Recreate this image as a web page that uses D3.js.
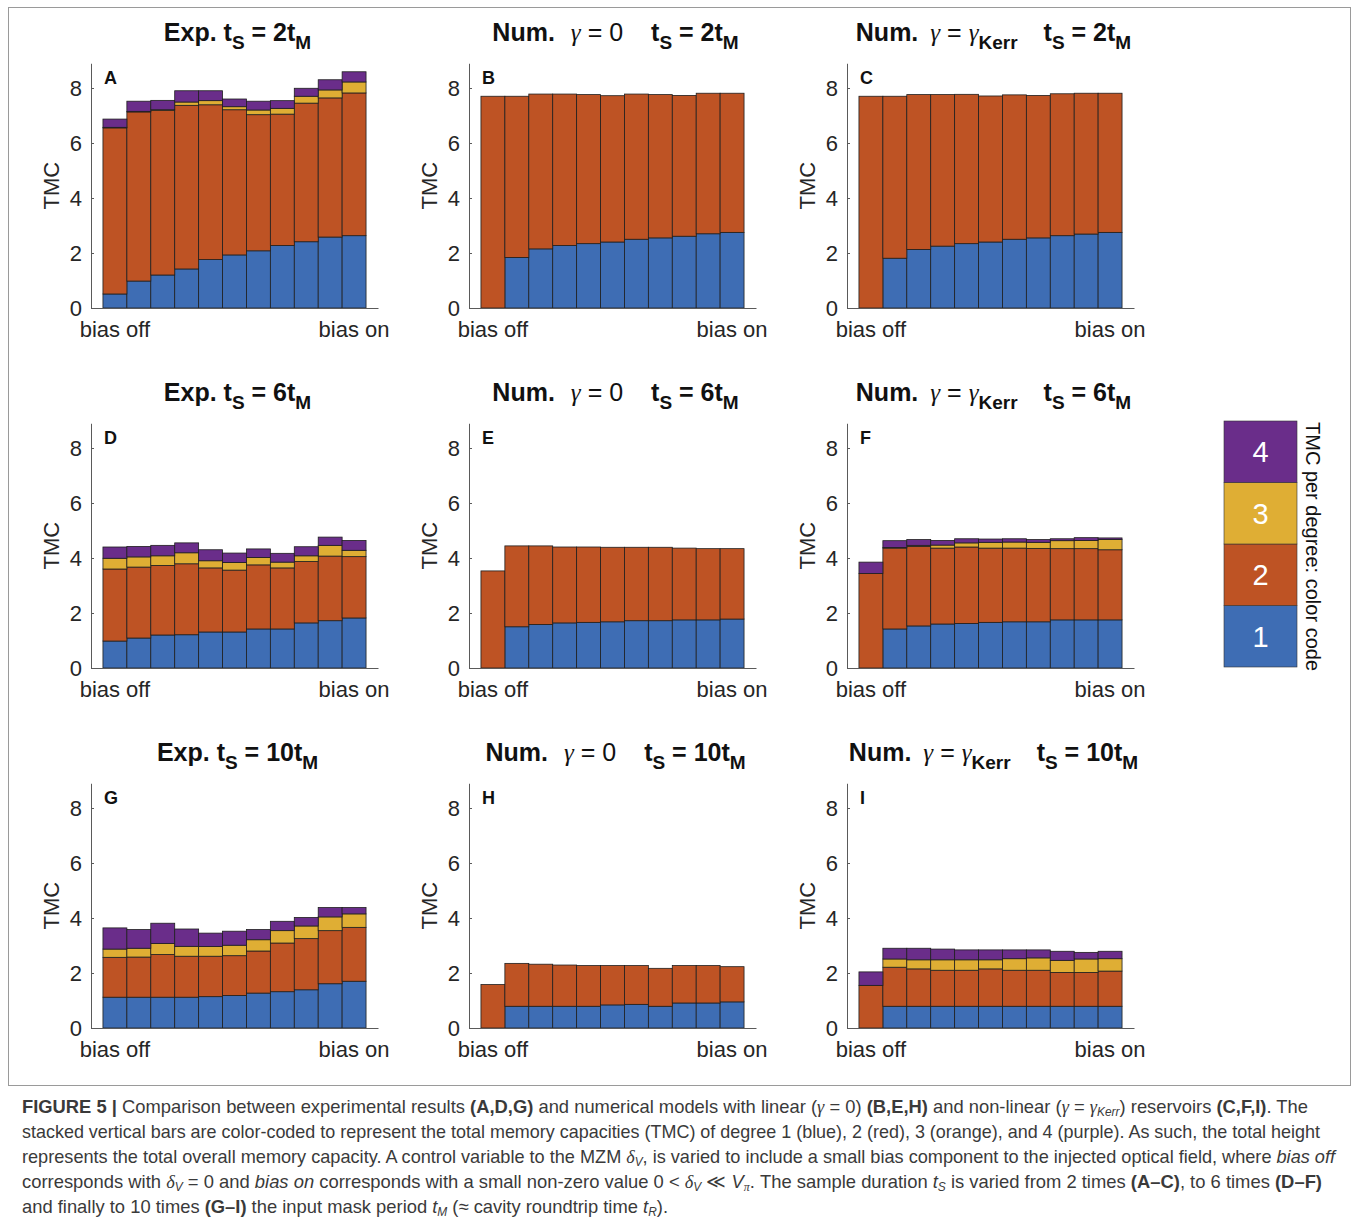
<!DOCTYPE html>
<html>
<head>
<meta charset="utf-8">
<script src="https://cdn.jsdelivr.net/npm/d3@7"></script>
<style>
  body { margin: 0; background: #fff; }
  svg { display: block; font-family: "Liberation Sans", Arial, sans-serif; }
</style>
</head>
<body>
<svg id="fig" width="1360" height="1226"></svg>
<script>
// TMC per degree (1..4) for the 11 bias steps
var barIndex = [1, 2, 3, 4, 5, 6, 7, 8, 9, 10, 11];
var degreeKeys = ["d1", "d2", "d3", "d4"];
var degreeLabels = ["1", "2", "3", "4"];
var degreeColors = ["#3e6db4", "#be5324", "#dfae34", "#6a2d8a"];
var xTickValues = [1, 11];
var xTickLabels = ["bias off", "bias on"];
var yTickValues = [0, 2, 4, 6, 8];

var panelA = [
  [0.51, 0.98, 1.20, 1.42, 1.76, 1.93, 2.08, 2.27, 2.41, 2.58, 2.63],
  [6.04, 6.15, 5.99, 5.95, 5.63, 5.28, 4.95, 4.78, 5.04, 5.06, 5.19],
  [0.02, 0.02, 0.02, 0.12, 0.15, 0.11, 0.17, 0.21, 0.25, 0.29, 0.40],
  [0.30, 0.37, 0.34, 0.41, 0.36, 0.28, 0.32, 0.28, 0.29, 0.37, 0.37]
];
var panelB = [
  [0, 1.84, 2.15, 2.27, 2.34, 2.40, 2.50, 2.55, 2.61, 2.70, 2.75],
  [7.70, 5.86, 5.63, 5.51, 5.42, 5.32, 5.28, 5.21, 5.12, 5.11, 5.06],
  [0, 0, 0, 0, 0, 0, 0, 0, 0, 0, 0],
  [0, 0, 0, 0, 0, 0, 0, 0, 0, 0, 0]
];
var panelC = [
  [0, 1.81, 2.13, 2.25, 2.34, 2.40, 2.50, 2.55, 2.63, 2.69, 2.75],
  [7.70, 5.89, 5.63, 5.51, 5.43, 5.31, 5.25, 5.18, 5.16, 5.12, 5.06],
  [0, 0, 0, 0, 0, 0, 0, 0, 0, 0, 0],
  [0, 0, 0, 0, 0, 0, 0, 0, 0, 0, 0]
];
var panelD = [
  [0.98, 1.09, 1.20, 1.21, 1.31, 1.31, 1.42, 1.42, 1.64, 1.72, 1.82],
  [2.62, 2.58, 2.53, 2.58, 2.33, 2.25, 2.33, 2.22, 2.23, 2.35, 2.23],
  [0.39, 0.37, 0.35, 0.40, 0.26, 0.28, 0.27, 0.21, 0.21, 0.39, 0.23],
  [0.41, 0.38, 0.38, 0.36, 0.40, 0.34, 0.31, 0.32, 0.33, 0.30, 0.36]
];
var panelE = [
  [0, 1.50, 1.58, 1.64, 1.66, 1.68, 1.72, 1.72, 1.75, 1.75, 1.78],
  [3.53, 2.94, 2.86, 2.76, 2.74, 2.71, 2.67, 2.67, 2.61, 2.59, 2.56],
  [0, 0, 0, 0, 0, 0, 0, 0, 0, 0, 0],
  [0, 0, 0, 0, 0, 0, 0, 0, 0, 0, 0]
];
var panelF = [
  [0, 1.42, 1.53, 1.60, 1.62, 1.66, 1.68, 1.68, 1.75, 1.75, 1.75],
  [3.44, 2.94, 2.89, 2.76, 2.78, 2.70, 2.68, 2.67, 2.59, 2.59, 2.55],
  [0, 0.02, 0.04, 0.11, 0.15, 0.21, 0.22, 0.22, 0.29, 0.30, 0.37],
  [0.41, 0.25, 0.21, 0.17, 0.15, 0.12, 0.12, 0.10, 0.07, 0.10, 0.06]
];
var panelG = [
  [1.12, 1.12, 1.12, 1.12, 1.14, 1.18, 1.27, 1.32, 1.39, 1.61, 1.70],
  [1.45, 1.46, 1.55, 1.49, 1.47, 1.45, 1.53, 1.77, 1.86, 1.93, 1.96],
  [0.30, 0.32, 0.40, 0.36, 0.35, 0.38, 0.41, 0.45, 0.46, 0.50, 0.49],
  [0.77, 0.68, 0.74, 0.63, 0.49, 0.51, 0.37, 0.34, 0.31, 0.34, 0.23]
];
var panelH = [
  [0, 0.79, 0.79, 0.79, 0.79, 0.84, 0.86, 0.79, 0.91, 0.91, 0.95],
  [1.58, 1.56, 1.53, 1.50, 1.48, 1.43, 1.41, 1.38, 1.36, 1.36, 1.28],
  [0, 0, 0, 0, 0, 0, 0, 0, 0, 0, 0],
  [0, 0, 0, 0, 0, 0, 0, 0, 0, 0, 0]
];
var panelI = [
  [0, 0.79, 0.79, 0.79, 0.79, 0.79, 0.79, 0.79, 0.79, 0.79, 0.79],
  [1.55, 1.42, 1.36, 1.31, 1.31, 1.36, 1.31, 1.31, 1.23, 1.23, 1.28],
  [0, 0.30, 0.33, 0.38, 0.38, 0.33, 0.42, 0.45, 0.44, 0.49, 0.45],
  [0.49, 0.39, 0.42, 0.39, 0.36, 0.36, 0.32, 0.29, 0.33, 0.24, 0.27]
];

var panelLetters = ["A", "B", "C", "D", "E", "F", "G", "H", "I"];
var panelValues = [panelA, panelB, panelC, panelD, panelE, panelF, panelG, panelH, panelI];
var sampleTimes = ["2", "6", "10"];

// title pieces: [text, style, dx]
function titleSegs(col, n) {
  if (col == 0) return [["Exp. t", "b"], ["S", "b sub"], [" = " + n + "t", "b"], ["M", "b sub"]];
  if (col == 1) return [["Num.", "b"], ["γ", "m", 16], [" = 0", "r"], ["t", "b", 28], ["S", "b sub"], [" = " + n + "t", "b"], ["M", "b sub"]];
  return [["Num.", "b"], ["γ", "m", 12], [" = ", "r"], ["γ", "m"], ["Kerr", "b sub"], ["t", "b", 26], ["S", "b sub"], [" = " + n + "t", "b"], ["M", "b sub"]];
}

var captionLines = [
  [["FIGURE 5 | ", "b"], ["Comparison between experimental results ", ""], ["(A,D,G)", "b"], [" and numerical models with linear (", ""], ["γ", "m"], [" = 0) ", ""], ["(B,E,H)", "b"], [" and non-linear (", ""], ["γ", "m"], [" = ", ""], ["γ", "m"], ["Kerr", "i sub"], [") reservoirs ", ""], ["(C,F,I)", "b"], [". The", ""]],
  [["stacked vertical bars are color-coded to represent the total memory capacities (TMC) of degree 1 (blue), 2 (red), 3 (orange), and 4 (purple). As such, the total height", ""]],
  [["represents the total overall memory capacity. A control variable to the MZM ", ""], ["δ", "m"], ["V", "i sub"], [", is varied to include a small bias component to the injected optical field, where ", ""], ["bias off", "i"]],
  [["corresponds with ", ""], ["δ", "m"], ["V", "i sub"], [" = 0 and ", ""], ["bias on", "i"], [" corresponds with a small non-zero value 0 < ", ""], ["δ", "m"], ["V", "i sub"], [" ≪ ", ""], ["V", "i"], ["π", "m sub"], [". The sample duration ", ""], ["t", "i"], ["S", "i sub"], [" is varied from 2 times ", ""], ["(A–C)", "b"], [", to 6 times ", ""], ["(D–F)", "b"]],
  [["and finally to 10 times ", ""], ["(G–I)", "b"], [" the input mask period ", ""], ["t", "i"], ["M", "i sub"], [" (≈ cavity roundtrip time ", ""], ["t", "i"], ["R", "i sub"], [").", ""]]
];
var captionWidths = [1286, 1298, 1313, 1300, 646];

var colX = [91, 469, 847];
var rowY = [308, 668, 1028];
var axW = 287;
var pxPerUnit = 27.5;
var yMax = 8.9;

var svg = d3.select("#fig");

// frame around figure
svg.append("rect")
  .attr("x", 8.5).attr("y", 7.5)
  .attr("width", 1342).attr("height", 1078)
  .attr("fill", "none").attr("stroke", "#9a9a9a").attr("stroke-width", 1);

function richText(sel, segs, subSize, subShift) {
  var shift = 0;
  segs.forEach(function(s) {
    var st = s[1].split(" ");
    var ts = sel.append("tspan").text(s[0]);
    var isSub = st.indexOf("sub") >= 0;
    var target = isSub ? subShift : 0;
    var dy = target - shift;
    if (dy != 0) { ts.attr("dy", dy); shift = target; }
    if (s[2]) ts.attr("dx", s[2]);
    if (st.indexOf("b") >= 0) ts.attr("font-weight", "bold");
    if (st.indexOf("r") >= 0) ts.attr("font-weight", "normal");
    if (st.indexOf("i") >= 0) ts.attr("font-style", "italic");
    if (st.indexOf("m") >= 0) ts.attr("font-style", "italic").attr("font-family", "'Liberation Serif', serif");
    if (isSub) ts.attr("font-size", subSize);
  });
}

function drawPanel(vals, i) {
  var col = i % 3, row = Math.floor(i / 3);
  var x0 = colX[col], y0 = rowY[row];

  var x = d3.scaleBand().domain(barIndex)
    .range([x0, x0 + axW]).paddingInner(0).paddingOuter(0.5);
  var y = d3.scaleLinear().domain([0, yMax]).range([y0, y0 - yMax * pxPerUnit]);

  var rows = barIndex.map(function(b, j) {
    return { b: b, d1: vals[0][j], d2: vals[1][j], d3: vals[2][j], d4: vals[3][j] };
  });
  var series = d3.stack().keys(degreeKeys)(rows);

  var g = svg.append("g");

  g.selectAll("g.layer")
    .data(series)
    .join("g")
      .attr("class", "layer")
      .attr("fill", function(d, k) { return degreeColors[k]; })
    .selectAll("rect")
    .data(function(d) { return d; })
    .join("rect")
      .attr("x", function(d) { return x(d.data.b); })
      .attr("width", x.bandwidth())
      .attr("y", function(d) { return y(d[1]); })
      .attr("height", function(d) { return y(d[0]) - y(d[1]); })
      .attr("stroke", "#1f1f1f")
      .attr("stroke-width", 0.8);

  var yAxis = g.append("g")
    .attr("transform", "translate(" + x0 + ",0)")
    .call(d3.axisLeft(y).tickValues(yTickValues).tickSizeInner(-3).tickSizeOuter(0).tickPadding(9).tickFormat(d3.format("d")));

  var xAxis = g.append("g")
    .attr("transform", "translate(0," + y0 + ")")
    .call(d3.axisBottom(x).tickValues(xTickValues).tickSize(0).tickPadding(13)
      .tickFormat(function(d) { return xTickLabels[xTickValues.indexOf(d)]; }));

  [yAxis, xAxis].forEach(function(a) {
    a.select(".domain").attr("stroke", "#5a5a5a").attr("stroke-width", 1);
    a.selectAll(".tick line").attr("stroke", "#5a5a5a");
    a.selectAll(".tick text")
      .attr("fill", "#262626")
      .attr("font-size", 22)
      .attr("font-family", "'Liberation Sans', Arial, sans-serif");
  });

  g.append("text")
    .attr("transform", "translate(" + (x0 - 32) + "," + ((y(0) + y(yMax)) / 2) + ") rotate(-90)")
    .attr("text-anchor", "middle")
    .attr("font-size", 22)
    .attr("fill", "#262626")
    .text("TMC");

  g.append("text")
    .attr("x", x0 + 13)
    .attr("y", y(yMax) + 21)
    .attr("font-size", 18)
    .attr("font-weight", "bold")
    .attr("fill", "#111")
    .text(panelLetters[i]);

  var title = g.append("text")
    .attr("x", x0 + axW / 2 + 3)
    .attr("y", y0 - 267)
    .attr("text-anchor", "middle")
    .attr("font-size", 25)
    .attr("fill", "#111");
  richText(title, titleSegs(col, sampleTimes[row]), 19, 8);
}

panelValues.forEach(drawPanel);

// colour-code legend
var legY = d3.scaleBand().domain(degreeLabels.slice().reverse()).range([421, 667]);
var leg = svg.append("g");
leg.selectAll("rect")
  .data(degreeLabels)
  .join("rect")
    .attr("x", 1224)
    .attr("y", function(d) { return legY(d); })
    .attr("width", 73)
    .attr("height", legY.bandwidth())
    .attr("fill", function(d, k) { return degreeColors[k]; })
    .attr("stroke", "#333")
    .attr("stroke-width", 0.6);
leg.selectAll("text.num")
  .data(degreeLabels)
  .join("text")
    .attr("class", "num")
    .attr("x", 1260.5)
    .attr("y", function(d) { return legY(d) + legY.bandwidth() / 2; })
    .attr("dy", "0.36em")
    .attr("text-anchor", "middle")
    .attr("font-size", 29)
    .attr("fill", "#fff")
    .text(function(d) { return d; });
leg.append("text")
  .attr("transform", "translate(1306,422) rotate(90)")
  .attr("font-size", 20)
  .attr("fill", "#111")
  .text("TMC per degree: color code");

// caption
captionLines.forEach(function(line, k) {
  var t = svg.append("text")
    .attr("x", 22)
    .attr("y", 1113 + k * 25)
    .attr("font-size", 18.5)
    .attr("fill", "#3a3a3a");
  if (captionWidths[k]) t.attr("textLength", captionWidths[k]).attr("lengthAdjust", "spacingAndGlyphs");
  richText(t, line, 12, 3);
});
</script>
</body>
</html>
